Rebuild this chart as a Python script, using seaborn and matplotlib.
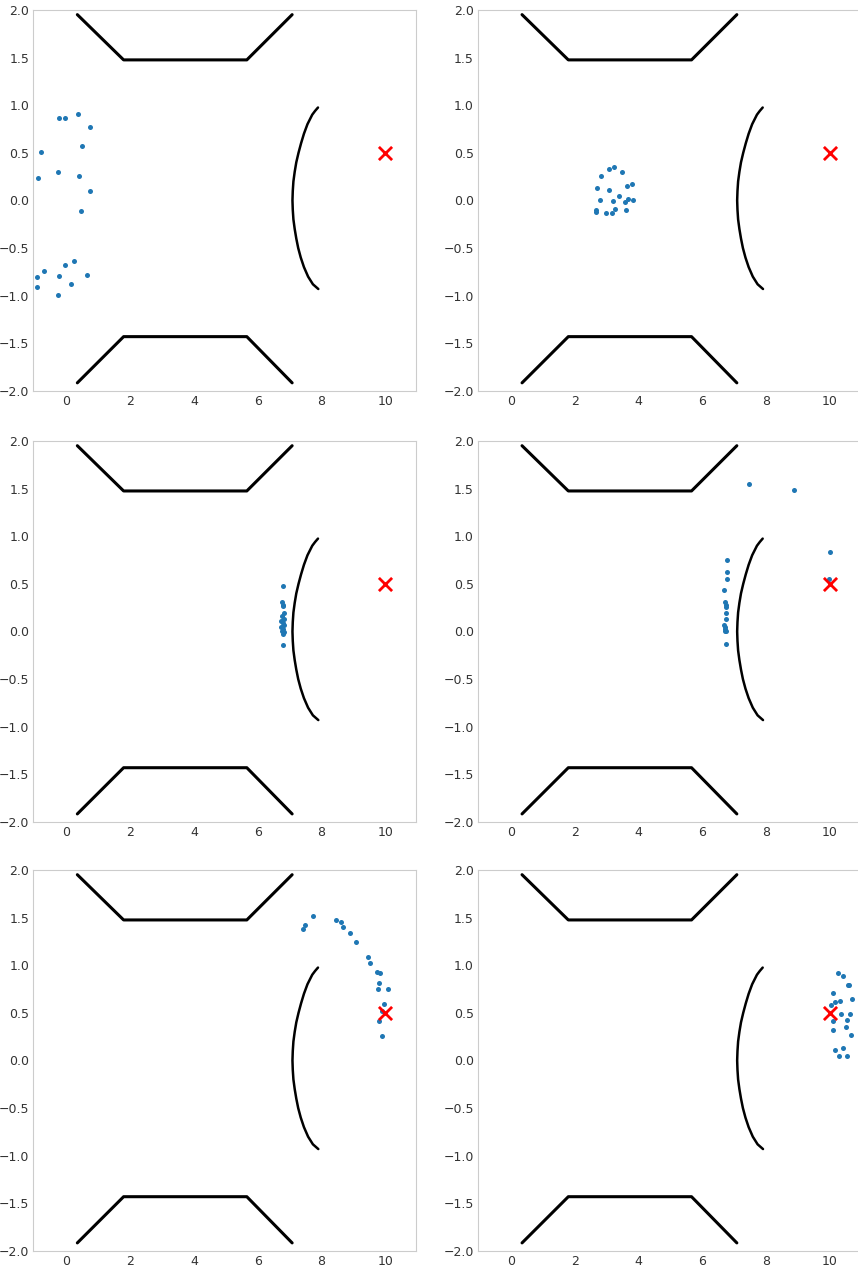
import matplotlib
matplotlib.use("Agg")
import matplotlib.pyplot as plt
import seaborn as sns

# walls (trapezoids) and the curved mirror
wall_top_x = [0.35, 1.80, 5.66, 7.08]
wall_top_y = [1.95, 1.475, 1.475, 1.95]
wall_bot_x = [0.35, 1.80, 5.66, 7.08]
wall_bot_y = [-1.915, -1.43, -1.43, -1.915]

arc_y = [0.975, 0.94, 0.9, 0.8, 0.7, 0.6, 0.5, 0.4, 0.3, 0.2, 0.1, 0.0,
         -0.1, -0.2, -0.3, -0.4, -0.5, -0.6, -0.7, -0.8, -0.88, -0.93]
arc_x = [7.89, 7.80, 7.71, 7.56, 7.45, 7.36, 7.28, 7.21, 7.16, 7.12, 7.10, 7.09,
         7.10, 7.12, 7.16, 7.21, 7.27, 7.35, 7.45, 7.58, 7.73, 7.90]

target_x = [10.0]
target_y = [0.5]

# particle positions, one pair of lists per snapshot
p1_x = [-0.21, -0.05, 0.37, 0.75, -0.79, 0.51, -0.87, -0.26, 0.40, 0.75,
        0.47, 0.23, -0.03, -0.68, -0.91, -0.21, 0.64, 0.14, -0.91, -0.26]
p1_y = [0.87, 0.87, 0.91, 0.767, 0.511, 0.574, 0.235, 0.294, 0.256, 0.098,
        -0.109, -0.637, -0.68, -0.743, -0.809, -0.795, -0.781, -0.876, -0.907, -0.988]

p2_x = [3.07, 3.23, 3.49, 2.83, 2.71, 3.09, 3.65, 3.78, 3.40, 2.78,
        3.21, 3.59, 3.68, 3.83, 2.66, 2.66, 3.26, 3.60, 2.99, 3.16]
p2_y = [0.329, 0.347, 0.301, 0.256, 0.126, 0.105, 0.154, 0.175, 0.049, 0.004,
        -0.007, -0.017, 0.011, 0.007, -0.102, -0.123, -0.088, -0.098, -0.137, -0.13]

p3_x = [6.79, 6.77, 6.80, 6.79, 6.82, 6.76, 6.81, 6.73, 6.78, 6.83,
        6.74, 6.80, 6.76, 6.82, 6.78, 6.80]
p3_y = [0.475, 0.31, 0.28, 0.27, 0.19, 0.16, 0.13, 0.11, 0.09, 0.07,
        0.05, 0.03, 0.01, -0.01, -0.03, -0.14]

p4_x = [7.47, 8.87, 10.0, 9.98, 6.78, 6.76, 6.77, 6.67, 6.71, 6.73,
        6.74, 6.75, 6.75, 6.68, 6.72, 6.70, 6.74, 6.71, 6.74]
p4_y = [1.55, 1.48, 0.835, 0.555, 0.755, 0.62, 0.55, 0.44, 0.31, 0.28,
        0.26, 0.19, 0.135, 0.07, 0.05, 0.03, 0.01, 0.0, -0.135]

p5_x = [7.42, 7.49, 7.73, 8.46, 8.61, 8.66, 8.90, 9.09, 9.47, 9.53,
        9.74, 9.84, 9.81, 9.76, 10.08, 9.97, 9.90, 9.79, 9.90]
p5_y = [1.377, 1.419, 1.52, 1.471, 1.454, 1.405, 1.335, 1.243, 1.086, 1.023,
        0.925, 0.913, 0.813, 0.753, 0.753, 0.592, 0.515, 0.417, 0.252]

p6_x = [10.26, 10.40, 10.55, 10.59, 10.10, 10.70, 10.31, 10.16, 10.03, 10.34,
        10.64, 10.10, 10.52, 10.49, 10.08, 10.65, 10.16, 10.40, 10.29, 10.52]
p6_y = [0.918, 0.883, 0.788, 0.795, 0.708, 0.644, 0.62, 0.61, 0.585, 0.49,
        0.49, 0.41, 0.427, 0.347, 0.322, 0.27, 0.112, 0.126, 0.049, 0.049]

snapshots = [(p1_x, p1_y), (p2_x, p2_y), (p3_x, p3_y),
             (p4_x, p4_y), (p5_x, p5_y), (p6_x, p6_y)]


def draw_panel(ax, px, py):
    sns.lineplot(x=wall_top_x, y=wall_top_y, sort=False, estimator=None,
                 color="black", linewidth=2.2, ax=ax)
    sns.lineplot(x=wall_bot_x, y=wall_bot_y, sort=False, estimator=None,
                 color="black", linewidth=2.2, ax=ax)
    sns.lineplot(x=arc_x, y=arc_y, sort=False, estimator=None,
                 color="black", linewidth=1.8, ax=ax)
    sns.scatterplot(x=px, y=py, color="#1f77b4", s=13, linewidth=0, ax=ax)
    sns.scatterplot(x=target_x, y=target_y, marker="x", color="red",
                    s=90, linewidth=2, ax=ax)
    ax.set_xlim(-1.03, 10.97)
    ax.set_ylim(-2, 2)
    ax.set_xticks([0, 2, 4, 6, 8, 10])
    ax.set_yticks([-2.0, -1.5, -1.0, -0.5, 0.0, 0.5, 1.0, 1.5, 2.0])
    ax.grid(False)
    ax.tick_params(labelsize=9, colors="#333333", length=0, pad=3)


sns.set_style("whitegrid")
fig = plt.figure(figsize=(8.58, 12.66), dpi=100)

lefts = [0.0388, 0.5571]
bottoms = [0.6912, 0.3507, 0.01185]
width, height = 0.4464, 0.301

for i, (px, py) in enumerate(snapshots):
    row, col = divmod(i, 2)
    ax = fig.add_axes([lefts[col], bottoms[row], width, height])
    draw_panel(ax, px, py)

fig.savefig("out.png", dpi=100)
